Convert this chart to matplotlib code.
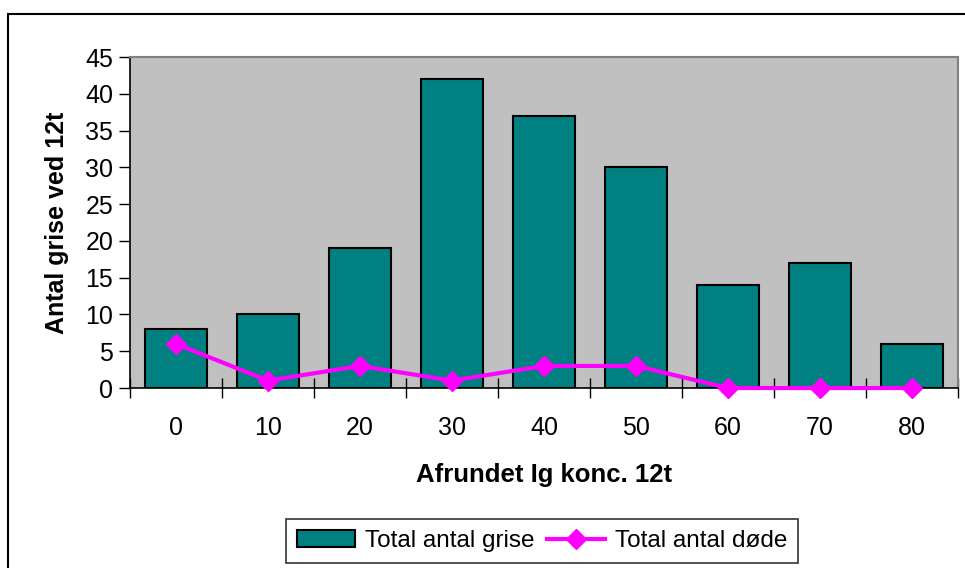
import numpy as np
import matplotlib
matplotlib.use("Agg")
import matplotlib.pyplot as plt
from matplotlib.patches import Rectangle

plt.rcParams['font.family'] = ['Liberation Sans', 'DejaVu Sans']

# data
konc = ['0', '10', '20', '30', '40', '50', '60', '70', '80']
antal_grise = [8, 10, 19, 42, 37, 30, 14, 17, 6]
antal_doede = [6, 1, 3, 1, 3, 3, 0, 0, 0]

fig = plt.figure(figsize=(9.65, 5.68), dpi=100)
ax = fig.add_axes([0.1347, 0.3169, 0.8580, 0.5827])
ax.set_facecolor('#C0C0C0')

x = np.arange(len(konc))
bars = ax.bar(x, antal_grise, width=0.68, color='#008080', edgecolor='black',
              linewidth=1.5, label='Total antal grise', zorder=2)
line, = ax.plot(x, antal_doede, color='#FF00FF', lw=3, marker='D', markersize=10,
                label='Total antal døde', zorder=3, clip_on=False)

ax.set_xlim(-0.5, len(konc) - 0.5)
ax.set_ylim(0, 45)
ax.set_yticks(range(0, 46, 5))
ax.set_xticks(x)
ax.set_xticklabels(konc)
ax.set_xticks(np.arange(-0.5, len(konc), 1), minor=True)
ax.tick_params(axis='x', which='major', length=0, pad=20, labelsize=18)
ax.tick_params(axis='x', which='minor', direction='inout', length=14, width=1)
ax.tick_params(axis='y', direction='out', length=8, width=1, labelsize=18, pad=4)

for s in ['left', 'bottom']:
    ax.spines[s].set_color('black')
    ax.spines[s].set_linewidth(1.2)
for s in ['top', 'right']:
    ax.spines[s].set_color('#808080')
    ax.spines[s].set_linewidth(1.5)

ax.set_ylabel('Antal grise ved 12t', fontsize=18, fontweight='bold', labelpad=12)
ax.set_xlabel('Afrundet Ig konc. 12t', fontsize=18.5, fontweight='bold', labelpad=17)

leg = fig.legend([bars, line], ['Total antal grise', 'Total antal døde'],
                 loc='center', bbox_to_anchor=(0.5617, 0.0475), ncol=2,
                 fontsize=17.5, frameon=True, fancybox=False, edgecolor='black',
                 handlelength=2.4, handletextpad=0.4, columnspacing=0.5,
                 borderpad=0.45, borderaxespad=0)
leg.get_frame().set_linewidth(1.2)

# outer chart border
fig.patches.append(Rectangle((8 / 965, -0.1), 1.2, (1 - 14 / 568) + 0.1,
                             transform=fig.transFigure, fill=False,
                             edgecolor='black', linewidth=1.5))

fig.savefig('out.png', dpi=100)
